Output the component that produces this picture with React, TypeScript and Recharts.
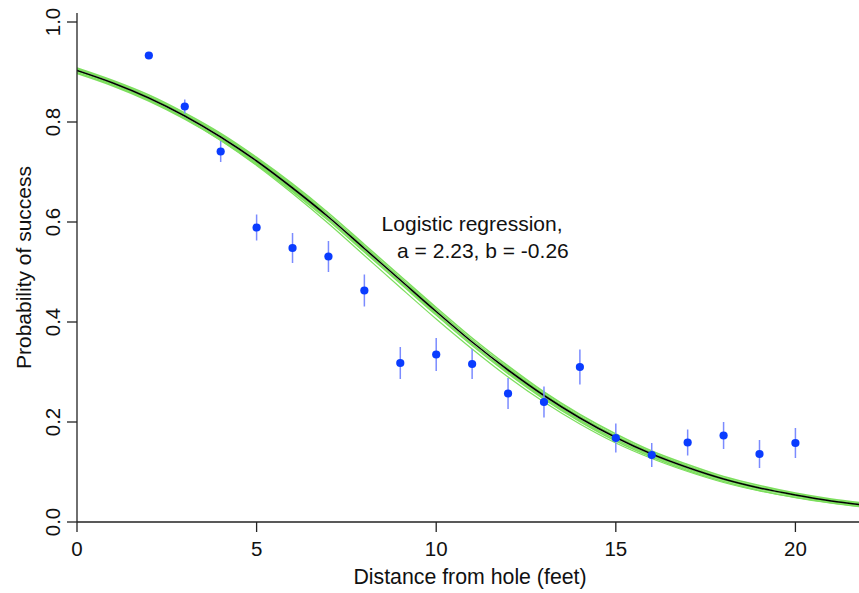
import { ComposedChart, Line, Scatter, ErrorBar, XAxis, YAxis, ReferenceDot } from 'recharts';

const distances = [2, 3, 4, 5, 6, 7, 8, 9, 10, 11, 12, 13, 14, 15, 16, 17, 18, 19, 20];
const successRate = [0.933, 0.831, 0.741, 0.589, 0.548, 0.531, 0.463, 0.318, 0.335, 0.316, 0.257, 0.240, 0.310, 0.168, 0.134, 0.159, 0.173, 0.136, 0.158];
const stdErr = [0.007, 0.014, 0.021, 0.026, 0.030, 0.031, 0.032, 0.032, 0.033, 0.030, 0.031, 0.031, 0.035, 0.029, 0.024, 0.026, 0.027, 0.028, 0.030];

// fitted logistic curve and a few posterior draws around it
const curveX = [0, 1, 2, 3, 4, 5, 6, 7, 8, 9, 10, 11, 12, 13, 14, 15, 16, 17, 18, 19, 20, 21, 22];
const fitMean = [0.903, 0.878, 0.848, 0.812, 0.770, 0.722, 0.668, 0.610, 0.547, 0.484, 0.421, 0.360, 0.304, 0.253, 0.208, 0.169, 0.136, 0.109, 0.086, 0.068, 0.054, 0.042, 0.033];
const draw1 = [0.908, 0.883, 0.854, 0.818, 0.777, 0.729, 0.676, 0.618, 0.555, 0.492, 0.429, 0.368, 0.312, 0.260, 0.215, 0.176, 0.142, 0.115, 0.091, 0.073, 0.058, 0.046, 0.037];
const draw2 = [0.906, 0.881, 0.851, 0.815, 0.774, 0.726, 0.672, 0.614, 0.551, 0.488, 0.425, 0.364, 0.308, 0.256, 0.211, 0.172, 0.139, 0.112, 0.088, 0.070, 0.056, 0.044, 0.035];
const draw3 = [0.899, 0.874, 0.844, 0.808, 0.766, 0.718, 0.664, 0.606, 0.543, 0.480, 0.417, 0.356, 0.300, 0.249, 0.204, 0.165, 0.133, 0.106, 0.084, 0.066, 0.052, 0.040, 0.031];
const draw4 = [0.897, 0.872, 0.842, 0.806, 0.764, 0.715, 0.661, 0.603, 0.540, 0.477, 0.414, 0.353, 0.297, 0.246, 0.201, 0.162, 0.130, 0.103, 0.081, 0.063, 0.049, 0.038, 0.029];
const draw5 = [0.902, 0.876, 0.845, 0.807, 0.763, 0.713, 0.657, 0.597, 0.533, 0.469, 0.406, 0.346, 0.290, 0.240, 0.196, 0.158, 0.127, 0.101, 0.079, 0.062, 0.049, 0.038, 0.029];

const xTicks = [0, 5, 10, 15, 20];
const yTicks = [0, 0.2, 0.4, 0.6, 0.8, 1.0];

const points = distances.map((x, i) => ({ x, p: successRate[i], err: stdErr[i] }));
const curve = curveX.map((x, i) => ({
  x, mean: fitMean[i], d1: draw1[i], d2: draw2[i], d3: draw3[i], d4: draw4[i], d5: draw5[i],
}));

const FONT = '"Liberation Sans", Arial, Helvetica, sans-serif';
const GREEN = '#7ddf5e';
const BLUE = '#0a3cff';

const YTick = ({ x, y, payload }: any) => (
  <text transform={`translate(${x - 5},${y}) rotate(-90)`} textAnchor="middle" fontSize={20.5} fontFamily={FONT} fill="#111">
    {Number(payload.value).toFixed(1)}
  </text>
);

const XTick = ({ x, y, payload }: any) => (
  <text x={x} y={y + 22} textAnchor="middle" fontSize={20.5} fontFamily={FONT} fill="#111">
    {payload.value}
  </text>
);

const Dot = (props: any) => <circle cx={props.cx} cy={props.cy} r={4.1} fill={BLUE} />;

const Annotation = ({ viewBox }: any) => (
  <g fontFamily={FONT} fontSize={21} fill="#111">
    <text x={viewBox.x} y={viewBox.y}>Logistic regression,</text>
    <text x={viewBox.x + 15.5} y={viewBox.y + 27}>a = 2.23, b = -0.26</text>
  </g>
);

export default function App() {
  return (
    <div style={{ position: 'absolute', left: 0, top: 0, background: '#fff' }}>
      <ComposedChart width={859} height={593} data={curve} margin={{ top: 13, right: 0, bottom: 0, left: 0 }}>
        <XAxis
          dataKey="x"
          type="number"
          domain={[0, 21.77]}
          allowDataOverflow
          ticks={xTicks}
          tickSize={10}
          height={71}
          tick={<XTick />}
          stroke="#222"
          strokeWidth={1.3}
          label={{
            content: ({ viewBox }: any) => (
              <text x={viewBox.x + viewBox.width / 2 + 2} y={viewBox.y + 62} textAnchor="middle" fontSize={21.3} fontFamily={FONT} fill="#111">
                Distance from hole (feet)
              </text>
            ),
          }}
        />
        <YAxis
          type="number"
          domain={[0, 1.018]}
          allowDataOverflow
          ticks={yTicks}
          tickSize={10}
          width={77}
          tick={<YTick />}
          stroke="#222"
          strokeWidth={1.3}
          label={{
            content: ({ viewBox }: any) => (
              <text transform={`translate(31,${viewBox.y + viewBox.height / 2}) rotate(-90)`} textAnchor="middle" fontSize={21} fontFamily={FONT} fill="#111">
                Probability of success
              </text>
            ),
          }}
        />
        <Line dataKey="d5" type="monotone" stroke={GREEN} strokeWidth={1.2} dot={false} isAnimationActive={false} />
        <Line dataKey="d4" type="monotone" stroke={GREEN} strokeWidth={1.6} dot={false} isAnimationActive={false} />
        <Line dataKey="d3" type="monotone" stroke={GREEN} strokeWidth={1.6} dot={false} isAnimationActive={false} />
        <Line dataKey="d2" type="monotone" stroke={GREEN} strokeWidth={1.6} dot={false} isAnimationActive={false} />
        <Line dataKey="d1" type="monotone" stroke={GREEN} strokeWidth={1.6} dot={false} isAnimationActive={false} />
        <Line dataKey="mean" type="monotone" stroke="#000" strokeWidth={1.6} dot={false} isAnimationActive={false} />
        <Scatter data={points} dataKey="p" shape={<Dot />} isAnimationActive={false}>
          <ErrorBar dataKey="err" direction="y" width={0} stroke="#7b8bff" strokeWidth={1.5} />
        </Scatter>
        <ReferenceDot x={8.48} y={0.582} r={0} fill="none" stroke="none" label={<Annotation />} />
      </ComposedChart>
    </div>
  );
}
